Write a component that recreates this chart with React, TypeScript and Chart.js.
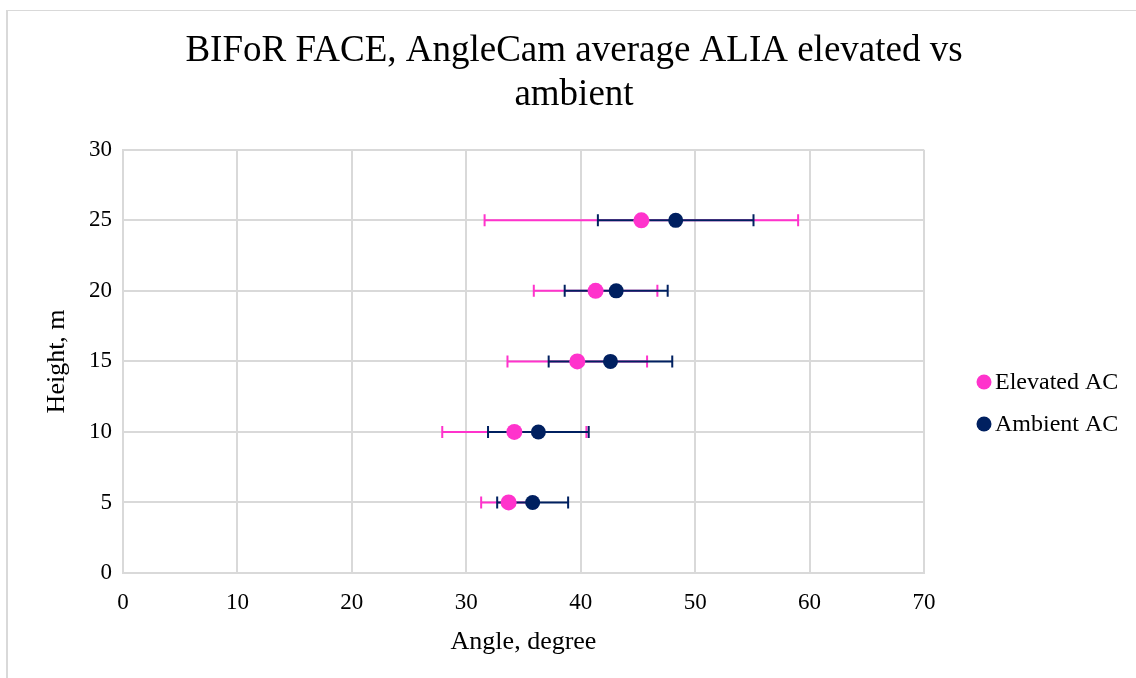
import React, { useEffect, useRef } from "react";
import { Chart, registerables } from "chart.js";

Chart.register(...registerables);

const titleLines = ["BIFoR FACE, AngleCam average ALIA elevated vs", "ambient"];
const xAxisTitle = "Angle, degree";
const yAxisTitle = "Height, m";

const heights = [5, 10, 15, 20, 25];
const elevatedLabel = "Elevated AC";
const elevatedAngle = [33.7, 34.2, 39.7, 41.3, 45.3];
const elevatedErr = [2.4, 6.3, 6.1, 5.4, 13.7];
const ambientLabel = "Ambient AC";
const ambientAngle = [35.8, 36.3, 42.6, 43.1, 48.3];
const ambientErr = [3.1, 4.4, 5.4, 4.5, 6.8];

const PINK = "#FF33CC";
const NAVY = "#002060";
const GRID = "#D9D9D9";
const FONT = "'Liberation Serif', 'Times New Roman', serif";

export default function App() {
  const ref = useRef<HTMLCanvasElement>(null);

  useEffect(() => {
    const errs = [elevatedErr, ambientErr];

    const errorBars = {
      id: "errorBars",
      beforeDatasetsDraw(chart: any) {
        const ctx = chart.ctx;
        const xs = chart.scales.x;
        const ys = chart.scales.y;
        ctx.save();
        chart.data.datasets.forEach((ds: any, di: number) => {
          const e = errs[di];
          ctx.strokeStyle = ds.borderColor;
          ctx.lineWidth = 2;
          ds.data.forEach((p: any, i: number) => {
            const y = ys.getPixelForValue(p.y);
            const x1 = xs.getPixelForValue(p.x - e[i]);
            const x2 = xs.getPixelForValue(p.x + e[i]);
            ctx.beginPath();
            ctx.moveTo(x1, y);
            ctx.lineTo(x2, y);
            ctx.moveTo(x1, y - 6);
            ctx.lineTo(x1, y + 6);
            ctx.moveTo(x2, y - 6);
            ctx.lineTo(x2, y + 6);
            ctx.stroke();
          });
        });
        ctx.restore();
      },
    };

    const sideLegend = {
      id: "sideLegend",
      afterDraw(chart: any) {
        const ctx = chart.ctx;
        ctx.save();
        ctx.font = `24px ${FONT}`;
        ctx.textBaseline = "middle";
        ctx.textAlign = "left";
        chart.data.datasets.forEach((ds: any, i: number) => {
          const cy = 382 + i * 42;
          ctx.fillStyle = ds.backgroundColor;
          ctx.beginPath();
          ctx.arc(984, cy, 7.5, 0, Math.PI * 2);
          ctx.fill();
          ctx.fillStyle = "#000";
          ctx.fillText(ds.label, 995, cy + 1);
        });
        ctx.restore();
      },
    };

    const chart = new Chart(ref.current as HTMLCanvasElement, {
      type: "scatter",
      data: {
        datasets: [
          {
            label: elevatedLabel,
            data: heights.map((h, i) => ({ x: elevatedAngle[i], y: h })),
            backgroundColor: PINK,
            borderColor: PINK,
            pointRadius: 8,
            pointBorderWidth: 0,
            order: 1,
          },
          {
            label: ambientLabel,
            data: heights.map((h, i) => ({ x: ambientAngle[i], y: h })),
            backgroundColor: NAVY,
            borderColor: NAVY,
            pointRadius: 7.5,
            pointBorderWidth: 0,
            order: 0,
          },
        ],
      },
      options: {
        responsive: false,
        animation: false,
        devicePixelRatio: 1,
        layout: { padding: { top: 0, left: 12, right: 0, bottom: 20 } },
        plugins: {
          legend: { display: false },
          tooltip: { enabled: false },
          title: {
            display: true,
            text: titleLines,
            color: "#000",
            font: { family: FONT, size: 37, weight: "normal", lineHeight: 1.2 },
            padding: { top: 29, bottom: 32 },
          },
        },
        scales: {
          x: {
            type: "linear",
            min: 0,
            max: 70,
            ticks: { stepSize: 10, color: "#000", padding: 16, font: { family: FONT, size: 23 } },
            grid: { color: GRID, lineWidth: 2, drawTicks: false },
            border: { display: true, color: GRID, width: 2 },
            title: {
              display: true,
              text: xAxisTitle,
              color: "#000",
              font: { family: FONT, size: 26, lineHeight: 1.2 },
              padding: 0,
            },
            afterFit(scale: any) {
              scale.height = 85;
            },
          },
          y: {
            type: "linear",
            position: "left",
            min: 0,
            max: 30,
            ticks: { stepSize: 5, color: "#000", padding: 11, font: { family: FONT, size: 23 } },
            grid: { color: GRID, lineWidth: 2, drawTicks: false },
            border: { display: true, color: GRID, width: 2 },
            title: {
              display: true,
              text: yAxisTitle,
              color: "#000",
              font: { family: FONT, size: 26, lineHeight: 1.2 },
              padding: { top: 30, bottom: 0 },
            },
            afterFit(scale: any) {
              scale.width = 111;
            },
          },
          legendSpace: {
            type: "linear",
            position: "right",
            min: 0,
            max: 30,
            ticks: { display: false },
            grid: { display: false, drawTicks: false },
            border: { display: false },
            afterFit(scale: any) {
              scale.width = 212;
            },
          },
        },
      },
      plugins: [errorBars, sideLegend],
    } as any);

    return () => chart.destroy();
  }, []);

  return (
    <div
      style={{
        position: "fixed",
        left: 0,
        top: 0,
        width: 1136,
        height: 678,
        overflow: "hidden",
        background: "#fff",
      }}
    >
      <div
        style={{
          position: "absolute",
          left: 6,
          top: 10,
          width: 1200,
          height: 700,
          borderLeft: `2px solid ${GRID}`,
          borderTop: `1px solid ${GRID}`,
        }}
      />
      <canvas
        ref={ref}
        width={1136}
        height={678}
        style={{ position: "absolute", left: 0, top: 0, width: 1136, height: 678 }}
      />
    </div>
  );
}
